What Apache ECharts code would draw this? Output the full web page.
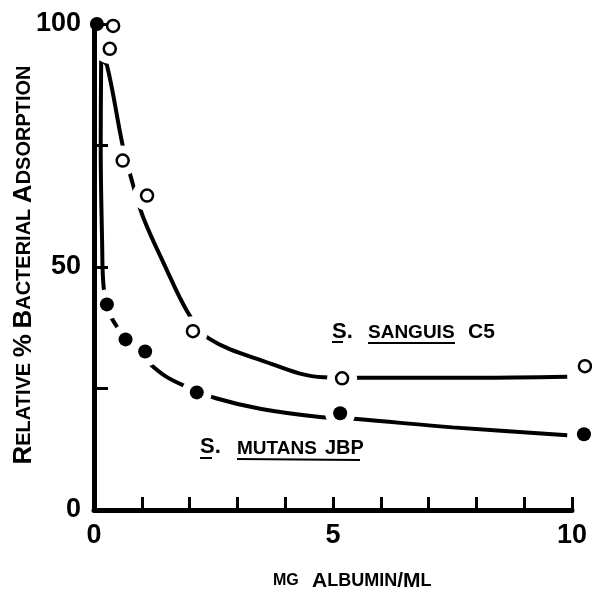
<!DOCTYPE html>
<html><head><meta charset="utf-8">
<script src="https://cdn.jsdelivr.net/npm/echarts/dist/echarts.min.js"></script>
<style>html,body{margin:0;padding:0;background:#fff}#c{width:592px;height:592px}</style>
</head><body><div id="c"></div>
<script>
// Axis tick labels
const xTickLabels = [0, 5, 10];
const yTickLabels = [0, 50, 100];
// Measured points (mg albumin/ml, relative % adsorption)
const sanguisPoints = [[0.40,99.6],[0.33,94.9],[0.60,71.9],[1.11,64.7],[2.07,36.8],[5.19,27.1],[10.27,29.6]];
const mutansPoints  = [[0.06,100],[0.27,42.3],[0.66,35.1],[1.07,32.6],[2.15,24.2],[5.15,19.9],[10.25,15.6]];
// Hand-drawn fitted curves
const sanguisCurve = [[0.15,92.5],[0.27,91.5],[0.6,75],[0.8,67.5],[1.03,60.2],[1.48,50.3],[1.96,40.7],[2.4,35.3],[3.5,30.8],[4.8,27.3],[6,27.2],[8,27.2],[9.9,27.4]];
const mutansCurve  = [[0.15,92.5],[0.14,75],[0.17,55],[0.2,46],[0.3,41],[0.5,37.4],[0.8,33.5],[1.13,30.4],[1.5,27.5],[1.95,25.3],[2.55,23],[3.5,20.8],[4.77,19.1],[5.5,18.7],[7.5,17],[9.9,15.4]];

const chart = echarts.init(document.getElementById('c'));
const F = 'Liberation Sans';
const numFont = {fontFamily:F, fontWeight:'bold', fontSize:27, color:'#000'};
function word(text, x, y, size, align) {
  return {type:'text', x:x, y:y, z:10, silent:true,
    style:{text:text, fill:'#000', font:'bold ' + size + 'px "' + F + '"', align:align || 'left', verticalAlign:'middle'}};
}
function uline(x1, y1, x2, y2) {
  return {type:'line', z:10, silent:true, shape:{x1:x1,y1:y1,x2:x2,y2:y2}, style:{stroke:'#000', lineWidth:2}};
}

chart.setOption({
  backgroundColor:'#fff',
  animation:false,
  grid:{left:94, right:20, top:24, bottom:82},
  xAxis:{type:'value', min:0, max:10, interval:1, z:5,
    axisLine:{lineStyle:{color:'#000', width:5}},
    axisTick:{inside:true, length:13, lineStyle:{color:'#000', width:3}},
    splitLine:{show:false},
    axisLabel:Object.assign({margin:12, formatter:v=>xTickLabels.includes(v)?String(v):''}, numFont)
  },
  yAxis:{type:'value', min:0, max:100, interval:25, z:5,
    axisLine:{lineStyle:{color:'#000', width:5}},
    axisTick:{inside:true, length:14, lineStyle:{color:'#000', width:3}},
    splitLine:{show:false},
    axisLabel:Object.assign({margin:13, formatter:v=>yTickLabels.includes(v)?String(v):''}, numFont)
  },
  series:[
    {type:'line', data:sanguisCurve, smooth:0.35, showSymbol:false, z:2, silent:true,
      lineStyle:{color:'#000', width:4}},
    {type:'line', data:mutansCurve, smooth:0.35, showSymbol:false, z:2, silent:true,
      lineStyle:{color:'#000', width:4}},
    {type:'scatter', data:sanguisPoints.concat(mutansPoints), symbol:'circle', symbolSize:30, z:3, clip:false, silent:true,
      itemStyle:{color:'#fff', opacity:1}},
    {type:'scatter', data:sanguisPoints, symbol:'circle', symbolSize:12, z:4, clip:false, silent:true,
      itemStyle:{color:'#fff', borderColor:'#000', borderWidth:2.5, opacity:1}},
    {type:'scatter', data:mutansPoints, symbol:'circle', symbolSize:14, z:4, clip:false, silent:true,
      itemStyle:{color:'#000', opacity:1}}
  ],
  graphic:[
    word('S.', 332, 332, 22), word('SANGUIS', 368, 333, 19), word('C5', 468, 332, 21),
    uline(332, 342, 343, 342), uline(368, 343, 455, 343),
    word('S.', 200, 447, 22), word('MUTANS', 237, 449, 19), word('JBP', 325, 448, 20),
    uline(200, 458, 212, 458), uline(237, 459, 360, 460),
    {type:'text', x:273, y:581, z:10, silent:true, style:{
      text:'{s|MG}', verticalAlign:'middle', fill:'#000',
      rich:{s:{fontFamily:F, fontWeight:'bold', fontSize:16, fill:'#000'}}}},
    {type:'text', x:312, y:581, z:10, silent:true, style:{
      text:'{b|A}{s|LBUMIN}{b|/M}{s|L}', verticalAlign:'middle', fill:'#000',
      rich:{b:{fontFamily:F, fontWeight:'bold', fontSize:21, fill:'#000'},
            s:{fontFamily:F, fontWeight:'bold', fontSize:18, fill:'#000'}}}},
    {type:'text', x:24, y:265, rotation:Math.PI/2, z:10, silent:true, style:{
      text:'{b|R}{s|ELATIVE }{b|%}{s| }{b|B}{s|ACTERIAL }{b|A}{s|DSORPTION}', align:'center', verticalAlign:'middle', fill:'#000',
      rich:{b:{fontFamily:F, fontWeight:'bold', fontSize:26, fill:'#000'},
            s:{fontFamily:F, fontWeight:'bold', fontSize:20, fill:'#000'}}}}
  ]
});
</script>
</body></html>
